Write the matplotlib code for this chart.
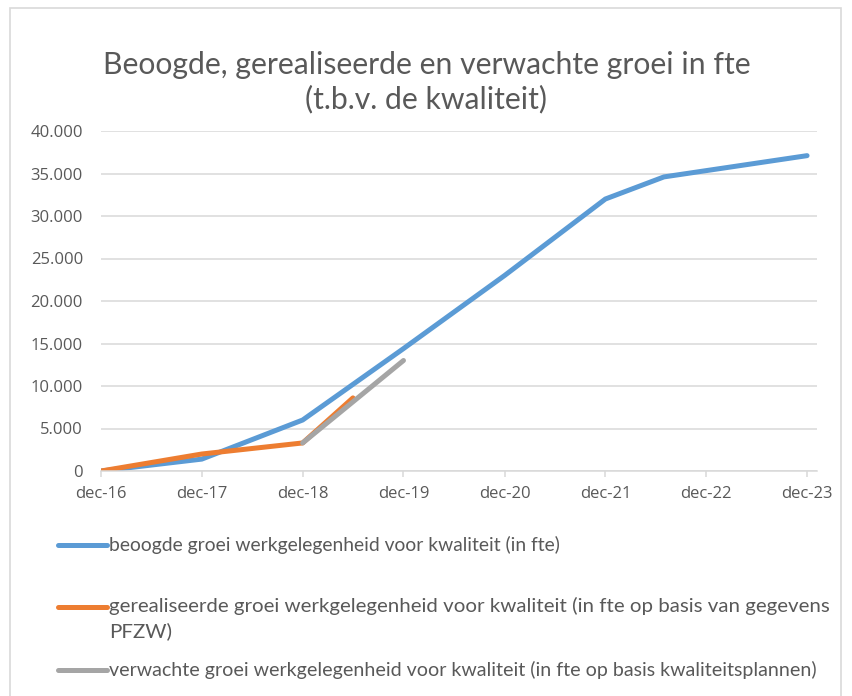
import matplotlib
matplotlib.use("Agg")
import matplotlib.pyplot as plt
import matplotlib.dates as mdates
from matplotlib.lines import Line2D
from matplotlib.patches import Rectangle
from matplotlib.ticker import MultipleLocator, FuncFormatter
from matplotlib import font_manager
import pandas as pd

# ---------------- data ----------------
title = "Beoogde, gerealiseerde en verwachte groei in fte\n(t.b.v. de kwaliteit)"

tick_dates = ["2016-12-01", "2017-12-01", "2018-12-01", "2019-12-01",
              "2020-12-01", "2021-12-01", "2022-12-01", "2023-12-01"]
tick_labels = ["dec-16", "dec-17", "dec-18", "dec-19", "dec-20", "dec-21", "dec-22", "dec-23"]

blue_dates = ["2016-12-01", "2017-12-01", "2018-12-01", "2019-12-01",
              "2020-12-01", "2021-12-01", "2022-07-01", "2023-12-01"]
blue_values = [0, 1400, 6000, 14400, 23000, 32000, 34600, 37100]

orange_dates = ["2016-12-01", "2017-12-01", "2018-12-01", "2019-06-01"]
orange_values = [0, 2000, 3300, 8600]

gray_dates = ["2018-12-01", "2019-12-01"]
gray_values = [3300, 13000]

labels = [
    "beoogde groei werkgelegenheid voor kwaliteit (in fte)",
    "gerealiseerde groei werkgelegenheid voor kwaliteit (in fte op basis van gegevens\nPFZW)",
    "verwachte groei werkgelegenheid voor kwaliteit (in fte op basis kwaliteitsplannen)",
]
colors = ["#5b9bd5", "#ed7d31", "#a5a5a5"]

# ---------------- fonts ----------------
names = {f.name for f in font_manager.fontManager.ttflist}
def pick(*cands):
    for c in cands:
        if c in names:
            return c
    return "DejaVu Sans"
title_font = pick("Lato", "Open Sans")
tick_font = pick("Open Sans", "Noto Sans")
legend_font = pick("Liberation Sans Narrow", "Lato")
txt_color = "#595959"

W, H = 853, 696
fig = plt.figure(figsize=(W / 100, H / 100), dpi=100)
fig.patch.set_facecolor("white")

# outer chart border
fig.add_artist(Rectangle((10 / W, -0.05), (841 - 10) / W, 1 - 8 / H + 0.05,
                         transform=fig.transFigure, fill=False,
                         edgecolor="#d9d9d9", linewidth=1.2))

ax = fig.add_axes([101 / W, 225 / H, (817 - 101) / W, 340 / H])

series = [(blue_dates, blue_values), (orange_dates, orange_values), (gray_dates, gray_values)]
for (d, v), c in zip(series, colors):
    ax.plot(pd.to_datetime(d), v, color=c, linewidth=3.6,
            solid_capstyle="round", solid_joinstyle="round")

ax.set_ylim(0, 40000)
ax.set_xlim(pd.Timestamp("2016-12-01"), pd.Timestamp("2024-01-06"))
ax.yaxis.set_major_locator(MultipleLocator(5000))
ax.yaxis.set_major_formatter(FuncFormatter(lambda v, p: f"{v:,.0f}".replace(",", ".")))
ax.set_xticks(pd.to_datetime(tick_dates))
ax.set_xticklabels(tick_labels)

ax.grid(axis="y", color="#d9d9d9", linewidth=1.1)
ax.set_axisbelow(True)
for s in ["top", "right", "left"]:
    ax.spines[s].set_visible(False)
ax.spines["bottom"].set_color("#d9d9d9")
ax.spines["bottom"].set_linewidth(1.1)
ax.tick_params(axis="y", length=0, pad=13, labelsize=12, labelcolor=txt_color)
ax.tick_params(axis="x", length=4, width=1.1, color="#d9d9d9", pad=7,
               labelsize=12, labelcolor=txt_color)
for lab in ax.get_xticklabels() + ax.get_yticklabels():
    lab.set_fontfamily(tick_font)

renderer = fig.canvas.get_renderer()
def fit_width(t, target):
    for _ in range(3):
        w = t.get_window_extent(renderer).width
        t.set_fontsize(t.get_fontsize() * target / w)

# title
t_title = fig.text(0.5, 1 - 82 / H, title, ha="center", va="center",
                   fontsize=20, color=txt_color, family=title_font, linespacing=1.25)
tmp = fig.text(0.5, 0.5, title.split("\n")[0], fontsize=20, family=title_font)
fit_width(tmp, 645)
t_title.set_fontsize(tmp.get_fontsize())
tmp.remove()

# legend (manual)
leg_y = [545, 607, 670]
leg_w = [453, 719, 702]
for lab, c, y, w in zip(labels, colors, leg_y, leg_w):
    fig.add_artist(Line2D([58 / W, 107 / W], [1 - y / H, 1 - y / H], transform=fig.transFigure,
                          color=c, linewidth=3.6, solid_capstyle="round"))
    first = lab.split("\n")[0]
    tmp = fig.text(0, 0, first, fontsize=12, family=legend_font)
    fit_width(tmp, w)
    fs = tmp.get_fontsize()
    tmp.remove()
    if "\n" in lab:
        fig.text(109 / W, 1 - (y - 10) / H, lab, ha="left", va="top", fontsize=fs,
                 color=txt_color, family=legend_font, linespacing=1.45)
    else:
        fig.text(109 / W, 1 - y / H, lab, ha="left", va="center", fontsize=fs,
                 color=txt_color, family=legend_font)

fig.savefig("out.png", dpi=100)
